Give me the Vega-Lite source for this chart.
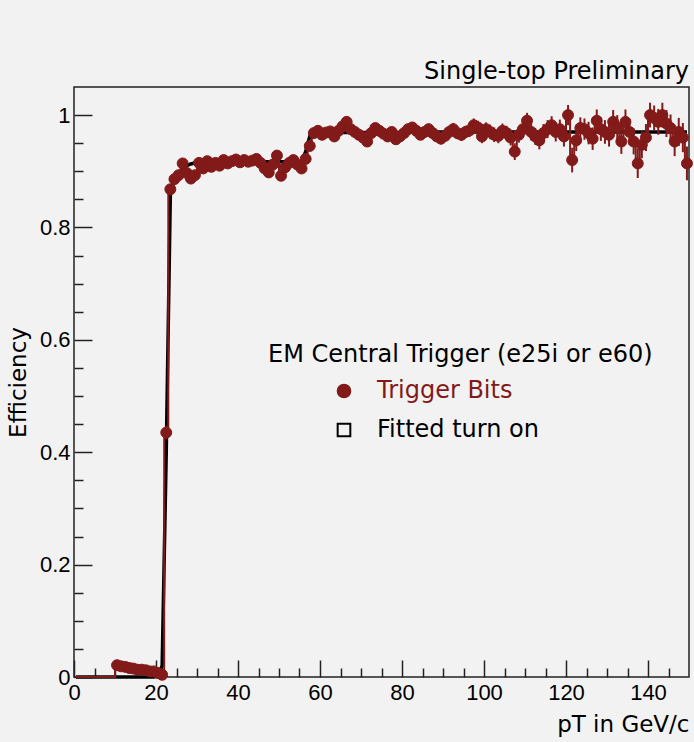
{
  "$schema": "https://vega.github.io/schema/vega-lite/v6.json",
  "autosize": {"type": "none"},
  "padding": {"left": 74, "top": 87, "right": 5, "bottom": 65},
  "width": 615,
  "height": 590,
  "background": "#f2f2f2",
  "title": {"text": "Single-top Preliminary", "anchor": "end", "frame": "group", "font": "DejaVu Sans", "fontSize": 24, "fontWeight": "normal", "color": "black", "baseline": "alphabetic", "offset": -16},
  "config": {
    "view": {"stroke": "#222222", "strokeWidth": 1.5, "fill": "#f2f2f2"},
    "axis": {"grid": false, "domain": false, "tickColor": "#222222", "tickWidth": 1.5, "labelColor": "black", "labelFont": "Liberation Sans", "labelFontSize": 22, "titleFont": "DejaVu Sans", "titleFontSize": 23, "titleFontWeight": "normal", "titleColor": "black", "labelFlush": false, "labelOverlap": false},
    "legend": {"orient": "none", "legendX": 194, "legendY": 256, "padding": 0, "titleFont": "DejaVu Sans", "titleFontSize": 24, "titleFontWeight": "normal", "titleColor": "black", "titlePadding": 12, "titleLimit": 600, "labelFont": "DejaVu Sans", "labelFontSize": 24, "labelLimit": 500, "symbolSize": 160, "symbolStrokeWidth": 2, "symbolOffset": 64, "labelOffset": 21, "rowPadding": 15}
  },
  "data": {"values": [
    {"pt":0.5,"eff":0,"err":0,"fit":0},{"pt":1.5,"eff":0,"err":0,"fit":0},{"pt":2.5,"eff":0,"err":0,"fit":0},{"pt":3.5,"eff":0,"err":0,"fit":0},{"pt":4.5,"eff":0,"err":0,"fit":0},
    {"pt":5.5,"eff":0,"err":0,"fit":0},{"pt":6.5,"eff":0,"err":0,"fit":0},{"pt":7.5,"eff":0,"err":0,"fit":0},{"pt":8.5,"eff":0,"err":0,"fit":0},{"pt":9.5,"eff":0,"err":0,"fit":0},
    {"pt":10.5,"eff":0.021,"err":0.004,"fit":0},{"pt":11.5,"eff":0.019,"err":0.004,"fit":0},{"pt":12.5,"eff":0.018,"err":0.004,"fit":0},{"pt":13.5,"eff":0.016,"err":0.003,"fit":0},{"pt":14.5,"eff":0.015,"err":0.003,"fit":0},
    {"pt":15.5,"eff":0.013,"err":0.003,"fit":0},{"pt":16.5,"eff":0.013,"err":0.003,"fit":0},{"pt":17.5,"eff":0.012,"err":0.003,"fit":0},{"pt":18.5,"eff":0.010,"err":0.003,"fit":0},{"pt":19.5,"eff":0.010,"err":0.003,"fit":0},
    {"pt":20.5,"eff":0.007,"err":0.003,"fit":0.002},{"pt":21.5,"eff":0.004,"err":0.002,"fit":0.02},{"pt":22.5,"eff":0.435,"err":0.012,"fit":0.40},{"pt":23.5,"eff":0.868,"err":0.008,"fit":0.86},{"pt":24.5,"eff":0.886,"err":0.007,"fit":0.884},
    {"pt":25.5,"eff":0.893,"err":0.007,"fit":0.897},{"pt":26.5,"eff":0.914,"err":0.006,"fit":0.905},{"pt":27.5,"eff":0.897,"err":0.006,"fit":0.910},{"pt":28.5,"eff":0.887,"err":0.006,"fit":0.913},{"pt":29.5,"eff":0.893,"err":0.006,"fit":0.915},
    {"pt":30.5,"eff":0.915,"err":0.006,"fit":0.917},{"pt":31.5,"eff":0.905,"err":0.006,"fit":0.917},{"pt":32.5,"eff":0.918,"err":0.006,"fit":0.917},{"pt":33.5,"eff":0.908,"err":0.006,"fit":0.917},{"pt":34.5,"eff":0.915,"err":0.006,"fit":0.917},
    {"pt":35.5,"eff":0.910,"err":0.006,"fit":0.917},{"pt":36.5,"eff":0.920,"err":0.006,"fit":0.917},{"pt":37.5,"eff":0.914,"err":0.006,"fit":0.917},{"pt":38.5,"eff":0.918,"err":0.006,"fit":0.917},{"pt":39.5,"eff":0.921,"err":0.006,"fit":0.917},
    {"pt":40.5,"eff":0.916,"err":0.006,"fit":0.917},{"pt":41.5,"eff":0.920,"err":0.006,"fit":0.917},{"pt":42.5,"eff":0.917,"err":0.006,"fit":0.917},{"pt":43.5,"eff":0.919,"err":0.006,"fit":0.917},{"pt":44.5,"eff":0.922,"err":0.006,"fit":0.917},
    {"pt":45.5,"eff":0.915,"err":0.006,"fit":0.917},{"pt":46.5,"eff":0.905,"err":0.007,"fit":0.917},{"pt":47.5,"eff":0.898,"err":0.007,"fit":0.917},{"pt":48.5,"eff":0.912,"err":0.007,"fit":0.917},{"pt":49.5,"eff":0.928,"err":0.007,"fit":0.917},
    {"pt":50.5,"eff":0.892,"err":0.007,"fit":0.917},{"pt":51.5,"eff":0.907,"err":0.007,"fit":0.917},{"pt":52.5,"eff":0.915,"err":0.007,"fit":0.917},{"pt":53.5,"eff":0.920,"err":0.007,"fit":0.917},{"pt":54.5,"eff":0.912,"err":0.007,"fit":0.917},
    {"pt":55.5,"eff":0.905,"err":0.007,"fit":0.917},{"pt":56.5,"eff":0.922,"err":0.007,"fit":0.935},{"pt":57.5,"eff":0.945,"err":0.007,"fit":0.962},{"pt":58.5,"eff":0.968,"err":0.007,"fit":0.969},{"pt":59.5,"eff":0.972,"err":0.007,"fit":0.969},
    {"pt":60.5,"eff":0.965,"err":0.007,"fit":0.969},{"pt":61.5,"eff":0.969,"err":0.007,"fit":0.969},{"pt":62.5,"eff":0.971,"err":0.007,"fit":0.969},{"pt":63.5,"eff":0.962,"err":0.007,"fit":0.969},{"pt":64.5,"eff":0.972,"err":0.007,"fit":0.969},
    {"pt":65.5,"eff":0.980,"err":0.008,"fit":0.969},{"pt":66.5,"eff":0.988,"err":0.008,"fit":0.969},{"pt":67.5,"eff":0.975,"err":0.008,"fit":0.969},{"pt":68.5,"eff":0.970,"err":0.008,"fit":0.969},{"pt":69.5,"eff":0.965,"err":0.008,"fit":0.969},
    {"pt":70.5,"eff":0.960,"err":0.008,"fit":0.969},{"pt":71.5,"eff":0.953,"err":0.008,"fit":0.969},{"pt":72.5,"eff":0.968,"err":0.008,"fit":0.969},{"pt":73.5,"eff":0.977,"err":0.008,"fit":0.969},{"pt":74.5,"eff":0.972,"err":0.008,"fit":0.969},
    {"pt":75.5,"eff":0.967,"err":0.008,"fit":0.969},{"pt":76.5,"eff":0.962,"err":0.009,"fit":0.969},{"pt":77.5,"eff":0.970,"err":0.009,"fit":0.969},{"pt":78.5,"eff":0.957,"err":0.009,"fit":0.969},{"pt":79.5,"eff":0.962,"err":0.009,"fit":0.969},
    {"pt":80.5,"eff":0.968,"err":0.009,"fit":0.970},{"pt":81.5,"eff":0.975,"err":0.009,"fit":0.970},{"pt":82.5,"eff":0.978,"err":0.009,"fit":0.970},{"pt":83.5,"eff":0.972,"err":0.009,"fit":0.970},{"pt":84.5,"eff":0.965,"err":0.009,"fit":0.970},
    {"pt":85.5,"eff":0.970,"err":0.010,"fit":0.970},{"pt":86.5,"eff":0.975,"err":0.010,"fit":0.970},{"pt":87.5,"eff":0.968,"err":0.010,"fit":0.970},{"pt":88.5,"eff":0.962,"err":0.010,"fit":0.970},{"pt":89.5,"eff":0.958,"err":0.010,"fit":0.970},
    {"pt":90.5,"eff":0.963,"err":0.010,"fit":0.970},{"pt":91.5,"eff":0.970,"err":0.011,"fit":0.970},{"pt":92.5,"eff":0.975,"err":0.011,"fit":0.970},{"pt":93.5,"eff":0.968,"err":0.011,"fit":0.970},{"pt":94.5,"eff":0.965,"err":0.011,"fit":0.970},
    {"pt":95.5,"eff":0.970,"err":0.011,"fit":0.970},{"pt":96.5,"eff":0.973,"err":0.012,"fit":0.970},{"pt":97.5,"eff":0.982,"err":0.012,"fit":0.970},{"pt":98.5,"eff":0.978,"err":0.012,"fit":0.970},{"pt":99.5,"eff":0.962,"err":0.012,"fit":0.970},
    {"pt":100.5,"eff":0.975,"err":0.012,"fit":0.970},{"pt":101.5,"eff":0.970,"err":0.013,"fit":0.970},{"pt":102.5,"eff":0.965,"err":0.013,"fit":0.970},{"pt":103.5,"eff":0.963,"err":0.013,"fit":0.970},{"pt":104.5,"eff":0.972,"err":0.013,"fit":0.970},
    {"pt":105.5,"eff":0.968,"err":0.013,"fit":0.970},{"pt":106.5,"eff":0.960,"err":0.014,"fit":0.970},{"pt":107.5,"eff":0.935,"err":0.015,"fit":0.970},{"pt":108.5,"eff":0.965,"err":0.014,"fit":0.970},{"pt":109.5,"eff":0.975,"err":0.014,"fit":0.970},
    {"pt":110.5,"eff":0.990,"err":0.014,"fit":0.970},{"pt":111.5,"eff":0.970,"err":0.015,"fit":0.970},{"pt":112.5,"eff":0.962,"err":0.015,"fit":0.970},{"pt":113.5,"eff":0.955,"err":0.016,"fit":0.970},{"pt":114.5,"eff":0.968,"err":0.016,"fit":0.970},
    {"pt":115.5,"eff":0.975,"err":0.016,"fit":0.970},{"pt":116.5,"eff":0.982,"err":0.016,"fit":0.970},{"pt":117.5,"eff":0.970,"err":0.017,"fit":0.970},{"pt":118.5,"eff":0.975,"err":0.017,"fit":0.970},{"pt":119.5,"eff":0.962,"err":0.018,"fit":0.970},
    {"pt":120.5,"eff":1.000,"err":0.018,"fit":0.970},{"pt":121.5,"eff":0.920,"err":0.022,"fit":0.970},{"pt":122.5,"eff":0.955,"err":0.019,"fit":0.970},{"pt":123.5,"eff":0.977,"err":0.019,"fit":0.970},{"pt":124.5,"eff":0.975,"err":0.019,"fit":0.970},
    {"pt":125.5,"eff":0.968,"err":0.020,"fit":0.970},{"pt":126.5,"eff":0.958,"err":0.020,"fit":0.970},{"pt":127.5,"eff":0.990,"err":0.020,"fit":0.970},{"pt":128.5,"eff":0.975,"err":0.021,"fit":0.970},{"pt":129.5,"eff":0.970,"err":0.021,"fit":0.970},
    {"pt":130.5,"eff":0.965,"err":0.021,"fit":0.970},{"pt":131.5,"eff":0.988,"err":0.021,"fit":0.970},{"pt":132.5,"eff":0.978,"err":0.022,"fit":0.970},{"pt":133.5,"eff":0.953,"err":0.022,"fit":0.970},{"pt":134.5,"eff":0.988,"err":0.022,"fit":0.970},
    {"pt":135.5,"eff":0.970,"err":0.023,"fit":0.970},{"pt":136.5,"eff":0.953,"err":0.023,"fit":0.970},{"pt":137.5,"eff":0.914,"err":0.026,"fit":0.970},{"pt":138.5,"eff":0.947,"err":0.024,"fit":0.970},{"pt":139.5,"eff":0.960,"err":0.024,"fit":0.970},
    {"pt":140.5,"eff":1.000,"err":0.022,"fit":0.970},{"pt":141.5,"eff":0.995,"err":0.022,"fit":0.970},{"pt":142.5,"eff":0.988,"err":0.023,"fit":0.970},{"pt":143.5,"eff":1.000,"err":0.022,"fit":0.970},{"pt":144.5,"eff":0.985,"err":0.024,"fit":0.970},
    {"pt":145.5,"eff":0.977,"err":0.024,"fit":0.970},{"pt":146.5,"eff":0.953,"err":0.026,"fit":0.970},{"pt":147.5,"eff":0.970,"err":0.025,"fit":0.970},{"pt":148.5,"eff":0.960,"err":0.026,"fit":0.970},{"pt":149.5,"eff":0.914,"err":0.030,"fit":0.970}
  ]},
  "resolve": {"axis": {"x": "independent", "y": "independent"}},
  "layer": [
    {"mark": {"type": "line", "color": "black", "strokeWidth": 3.5},
     "encoding": {
       "x": {"field": "pt", "type": "quantitative",
         "scale": {"domain": [0, 150], "nice": false, "zero": false},
         "axis": {"orient": "bottom", "values": [0,20,40,60,80,100,120,140], "tickSize": -17, "labelPadding": 22,
           "title": "pT in GeV/c", "titleAnchor": "end", "titleAlign": "right", "titleX": 615, "titleY": 54, "titleBaseline": "alphabetic"}},
       "y": {"field": "fit", "type": "quantitative",
         "scale": {"domain": [0, 1.05], "nice": false},
         "axis": {"orient": "left", "values": [0,0.2,0.4,0.6,0.8,1], "format": ".1~f", "tickSize": -18, "labelPadding": 22,
           "title": "Efficiency", "titleX": -49, "titleY": 295, "titleAlign": "center", "titleBaseline": "alphabetic", "titleAngle": 270}}
     }},
    {"mark": {"type": "line", "color": "#821a1a", "strokeWidth": 2, "interpolate": "step"},
     "encoding": {
       "x": {"field": "pt", "type": "quantitative",
         "axis": {"orient": "bottom", "values": [5,10,15,25,30,35,45,50,55,65,70,75,85,90,95,105,110,115,125,130,135,145], "tickSize": -9, "labels": false, "title": null}},
       "y": {"field": "eff", "type": "quantitative",
         "axis": {"orient": "left", "values": [0.05,0.1,0.15,0.25,0.3,0.35,0.45,0.5,0.55,0.65,0.7,0.75,0.85,0.9,0.95], "tickSize": -9, "labels": false, "title": null}}
     }},
    {"transform": [{"filter": "datum.pt > 10"}],
     "mark": {"type": "errorbar", "color": "#821a1a", "thickness": 2},
     "encoding": {
       "x": {"field": "pt", "type": "quantitative", "axis": null},
       "y": {"field": "eff", "type": "quantitative", "axis": null},
       "yError": {"field": "err"}}},
    {"transform": [{"filter": "datum.pt > 10"}],
     "mark": {"type": "point", "size": 120, "strokeWidth": 1, "opacity": 1},
     "encoding": {
       "x": {"field": "pt", "type": "quantitative", "axis": null},
       "y": {"field": "eff", "type": "quantitative", "axis": null},
       "shape": {"datum": "Trigger Bits", "type": "nominal", "title": "EM Central Trigger (e25i or e60)",
         "scale": {"domain": ["Trigger Bits", "Fitted turn on"], "range": ["circle", "square"]},
         "legend": {"labelColor": {"expr": "datum.label === 'Trigger Bits' ? '#821a1a' : 'black'"}}},
       "fill": {"datum": "Trigger Bits", "type": "nominal", "title": "EM Central Trigger (e25i or e60)",
         "scale": {"domain": ["Trigger Bits", "Fitted turn on"], "range": ["#821a1a", "transparent"]}},
       "stroke": {"datum": "Trigger Bits", "type": "nominal", "title": "EM Central Trigger (e25i or e60)",
         "scale": {"domain": ["Trigger Bits", "Fitted turn on"], "range": ["#821a1a", "black"]}}
     }}
  ]
}
